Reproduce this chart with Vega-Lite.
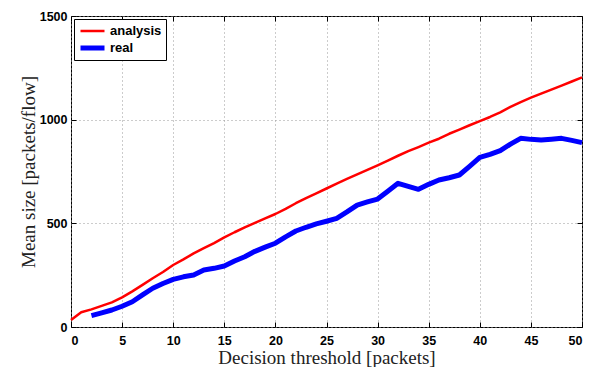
{
  "$schema": "https://vega.github.io/schema/vega-lite/v6.json",
  "width": 511,
  "height": 311,
  "autosize": {"type": "none"},
  "padding": {"left": 71, "top": 16, "right": 9, "bottom": 40},
  "background": "white",
  "config": {
    "view": {"stroke": "black", "strokeWidth": 1},
    "axis": {
      "labelFont": "Liberation Sans",
      "labelFontWeight": "bold",
      "labelFontSize": 12.5,
      "labelColor": "black",
      "titleFont": "Liberation Serif",
      "titleFontWeight": "normal",
      "titleFontSize": 19,
      "titleColor": "#222",
      "domain": false,
      "tickColor": "black",
      "tickSize": -5,
      "gridColor": "#999",
      "gridDash": [1, 3],
      "gridWidth": 1,
      "gridOpacity": 1
    }
  },
  "data": {
    "values": [
      {"x": 0, "y": 34, "series": "analysis"},
      {"x": 1, "y": 71, "series": "analysis"},
      {"x": 2, "y": 85, "series": "analysis"},
      {"x": 3, "y": 102, "series": "analysis"},
      {"x": 4, "y": 119, "series": "analysis"},
      {"x": 5, "y": 143, "series": "analysis"},
      {"x": 6, "y": 172, "series": "analysis"},
      {"x": 7, "y": 203, "series": "analysis"},
      {"x": 8, "y": 235, "series": "analysis"},
      {"x": 9, "y": 265, "series": "analysis"},
      {"x": 10, "y": 299, "series": "analysis"},
      {"x": 11, "y": 326, "series": "analysis"},
      {"x": 12, "y": 355, "series": "analysis"},
      {"x": 13, "y": 380, "series": "analysis"},
      {"x": 14, "y": 405, "series": "analysis"},
      {"x": 15, "y": 432, "series": "analysis"},
      {"x": 16, "y": 457, "series": "analysis"},
      {"x": 17, "y": 480, "series": "analysis"},
      {"x": 18, "y": 502, "series": "analysis"},
      {"x": 19, "y": 524, "series": "analysis"},
      {"x": 20, "y": 545, "series": "analysis"},
      {"x": 21, "y": 570, "series": "analysis"},
      {"x": 22, "y": 597, "series": "analysis"},
      {"x": 23, "y": 622, "series": "analysis"},
      {"x": 24, "y": 645, "series": "analysis"},
      {"x": 25, "y": 668, "series": "analysis"},
      {"x": 26, "y": 692, "series": "analysis"},
      {"x": 27, "y": 714, "series": "analysis"},
      {"x": 28, "y": 736, "series": "analysis"},
      {"x": 29, "y": 758, "series": "analysis"},
      {"x": 30, "y": 780, "series": "analysis"},
      {"x": 31, "y": 803, "series": "analysis"},
      {"x": 32, "y": 826, "series": "analysis"},
      {"x": 33, "y": 848, "series": "analysis"},
      {"x": 34, "y": 868, "series": "analysis"},
      {"x": 35, "y": 889, "series": "analysis"},
      {"x": 36, "y": 908, "series": "analysis"},
      {"x": 37, "y": 932, "series": "analysis"},
      {"x": 38, "y": 952, "series": "analysis"},
      {"x": 39, "y": 973, "series": "analysis"},
      {"x": 40, "y": 993, "series": "analysis"},
      {"x": 41, "y": 1013, "series": "analysis"},
      {"x": 42, "y": 1035, "series": "analysis"},
      {"x": 43, "y": 1062, "series": "analysis"},
      {"x": 44, "y": 1085, "series": "analysis"},
      {"x": 45, "y": 1106, "series": "analysis"},
      {"x": 46, "y": 1126, "series": "analysis"},
      {"x": 47, "y": 1145, "series": "analysis"},
      {"x": 48, "y": 1164, "series": "analysis"},
      {"x": 49, "y": 1184, "series": "analysis"},
      {"x": 50, "y": 1204, "series": "analysis"},
      {"x": 2, "y": 55, "series": "real"},
      {"x": 3, "y": 68, "series": "real"},
      {"x": 4, "y": 82, "series": "real"},
      {"x": 5, "y": 100, "series": "real"},
      {"x": 6, "y": 122, "series": "real"},
      {"x": 7, "y": 155, "series": "real"},
      {"x": 8, "y": 187, "series": "real"},
      {"x": 9, "y": 210, "series": "real"},
      {"x": 10, "y": 230, "series": "real"},
      {"x": 11, "y": 242, "series": "real"},
      {"x": 12, "y": 251, "series": "real"},
      {"x": 13, "y": 275, "series": "real"},
      {"x": 14, "y": 283, "series": "real"},
      {"x": 15, "y": 294, "series": "real"},
      {"x": 16, "y": 318, "series": "real"},
      {"x": 17, "y": 339, "series": "real"},
      {"x": 18, "y": 365, "series": "real"},
      {"x": 19, "y": 385, "series": "real"},
      {"x": 20, "y": 404, "series": "real"},
      {"x": 21, "y": 435, "series": "real"},
      {"x": 22, "y": 463, "series": "real"},
      {"x": 23, "y": 481, "series": "real"},
      {"x": 24, "y": 497, "series": "real"},
      {"x": 25, "y": 510, "series": "real"},
      {"x": 26, "y": 524, "series": "real"},
      {"x": 27, "y": 555, "series": "real"},
      {"x": 28, "y": 588, "series": "real"},
      {"x": 29, "y": 603, "series": "real"},
      {"x": 30, "y": 617, "series": "real"},
      {"x": 31, "y": 655, "series": "real"},
      {"x": 32, "y": 693, "series": "real"},
      {"x": 33, "y": 678, "series": "real"},
      {"x": 34, "y": 664, "series": "real"},
      {"x": 35, "y": 688, "series": "real"},
      {"x": 36, "y": 709, "series": "real"},
      {"x": 37, "y": 720, "series": "real"},
      {"x": 38, "y": 733, "series": "real"},
      {"x": 39, "y": 775, "series": "real"},
      {"x": 40, "y": 818, "series": "real"},
      {"x": 41, "y": 833, "series": "real"},
      {"x": 42, "y": 851, "series": "real"},
      {"x": 43, "y": 882, "series": "real"},
      {"x": 44, "y": 910, "series": "real"},
      {"x": 45, "y": 905, "series": "real"},
      {"x": 46, "y": 902, "series": "real"},
      {"x": 47, "y": 906, "series": "real"},
      {"x": 48, "y": 910, "series": "real"},
      {"x": 49, "y": 900, "series": "real"},
      {"x": 50, "y": 889, "series": "real"}
    ]
  },
  "layer": [
    {
      "mark": {"type": "line", "strokeJoin": "round", "strokeCap": "butt"},
      "encoding": {
        "x": {
          "field": "x", "type": "quantitative",
          "scale": {"domain": [0, 50], "nice": false},
          "axis": {"values": [0, 5, 10, 15, 20, 25, 30, 35, 40, 45, 50], "format": "d", "title": "Decision threshold [packets]", "labelPadding": 12, "titlePadding": 2}
        },
        "y": {
          "field": "y", "type": "quantitative",
          "scale": {"domain": [0, 1500], "nice": false},
          "axis": {"values": [0, 500, 1000, 1500], "format": "d", "title": "Mean size [packets/flow]", "labelPadding": 9, "titlePadding": 1}
        },
        "color": {
          "field": "series", "type": "nominal",
          "scale": {"domain": ["analysis", "real"], "range": ["#ff0000", "#0000ff"]},
          "legend": {
            "title": null, "orient": "top-left", "offset": 3,
            "strokeColor": "black", "fillColor": "white", "padding": 4,
            "labelFont": "Liberation Sans", "labelFontWeight": "bold", "labelFontSize": 13, "labelColor": "black",
            "symbolType": "stroke", "symbolSize": 576, "clipHeight": 16, "rowPadding": 1, "labelOffset": 3
          }
        },
        "strokeWidth": {
          "field": "series", "type": "nominal",
          "scale": {"domain": ["analysis", "real"], "range": [2.5, 5]},
          "legend": null
        }
      }
    },
    {
      "mark": {"type": "line", "opacity": 0},
      "encoding": {
        "x": {
          "field": "x", "type": "quantitative",
          "scale": {"domain": [0, 50], "nice": false},
          "axis": {"orient": "top", "values": [0, 5, 10, 15, 20, 25, 30, 35, 40, 45, 50], "labels": false, "title": null, "grid": false}
        },
        "y": {
          "field": "y", "type": "quantitative",
          "scale": {"domain": [0, 1500], "nice": false},
          "axis": {"orient": "right", "values": [0, 500, 1000, 1500], "labels": false, "title": null, "grid": false}
        }
      }
    }
  ],
  "resolve": {"scale": {"x": "independent", "y": "independent"}}
}
